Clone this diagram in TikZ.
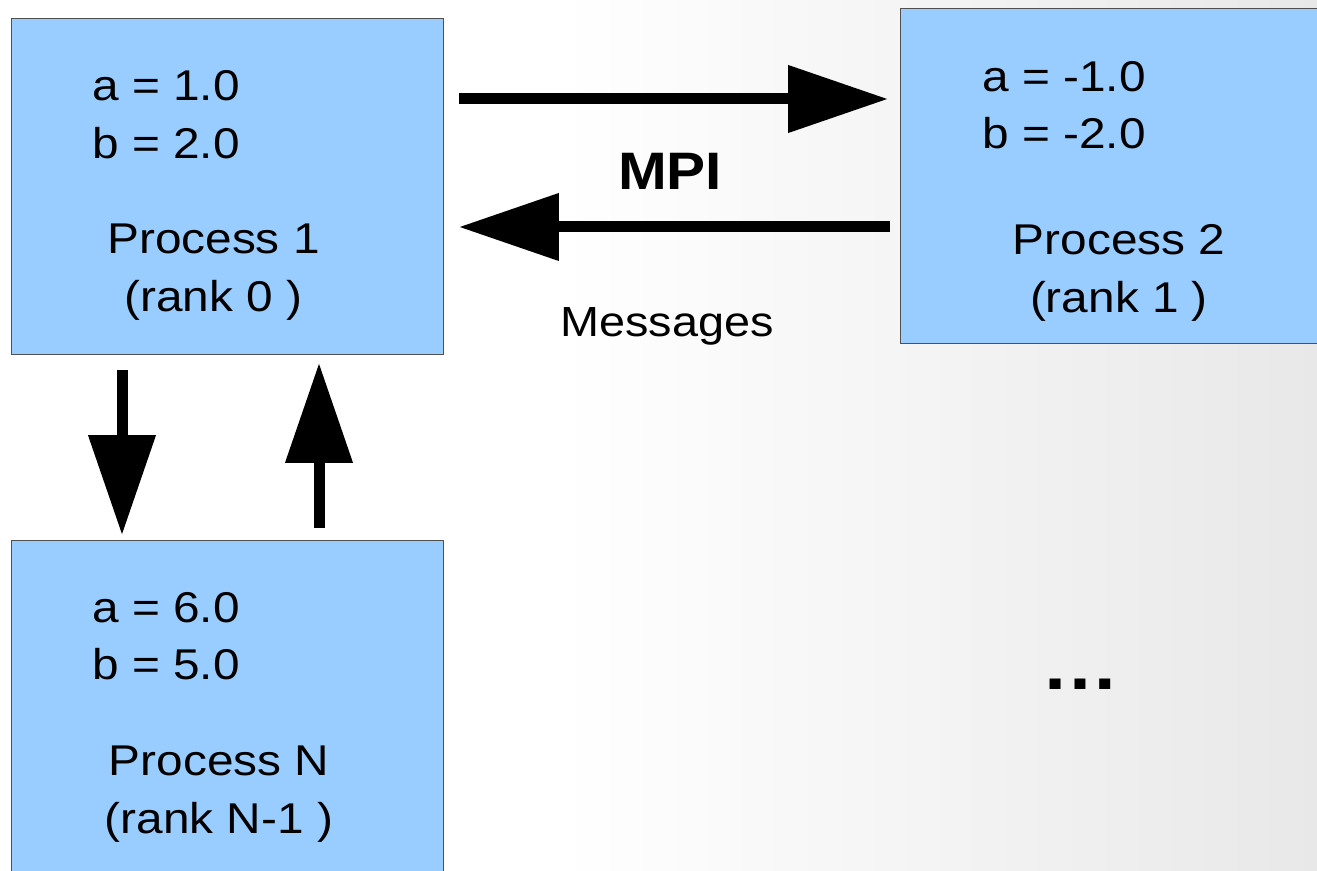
\documentclass[tikz,border=0pt]{standalone}
\usepackage{fontspec}
\setmainfont{Liberation Sans}[FakeStretch=1.11]
\usepackage{xcolor}
\usetikzlibrary{arrows.meta}
\definecolor{procblue}{RGB}{153,204,255}
\definecolor{procedge}{RGB}{80,80,80}

\begin{document}
\begin{tikzpicture}[x=0.02cm, y=-0.02cm,
		procbox/.style={draw=procedge, fill=procblue, rectangle, line width=0.6pt,
				minimum width=8.64cm, minimum height=6.72cm, anchor=north west, inner sep=0pt},
		vals/.style={anchor=north west, align=left, inner sep=0pt,
				font=\fontsize{24.5}{32.5}\selectfont},
		pname/.style={anchor=north, align=center, inner sep=0pt,
				font=\fontsize{24.5}{33}\selectfont},
		ar/.style={-{Triangle[length=2cm, width=1.3cm]}, line width=0.22cm},
		lbl/.style={anchor=base, inner sep=0pt},
	]
	\useasboundingbox (0,0) rectangle (1317,871);
	\clip (0,0) rectangle (1317,871);
	\fill[left color=white, right color=black!9] (560,0) rectangle (1317,871);

	\node[procbox] (p1) at (11,18) {};
	\node[procbox, minimum height=6.70cm] (p2) at (900,8) {};
	\node[procbox] (pn) at (11,540) {};

	\node[vals] (v1) at (92,70.5) {a = 1.0\\b = 2.0};
	\node[pname] (n1) at (213.5,224) {Process 1\\(rank 0 )};
	\node[vals] (v2) at (982,61) {a = -1.0\\b = -2.0};
	\node[pname] (n2) at (1119,224) {Process 2\\(rank 1 )};
	\node[vals] (vn) at (92,592) {a = 6.0\\b = 5.0};
	\node[pname] (nn) at (219,746) {Process N\\(rank N-1 )};

	\draw[ar] ([shift={(15,81)}]p1.north east) -- ([shift={(-12,91)}]p2.north west);
	\draw[ar] ([shift={(-10,219)}]p2.north west) -- ([shift={(15,209)}]p1.north east);
	\draw[ar] ([shift={(111,15)}]p1.south west) -- ([shift={(111,-5)}]pn.north west);
	\draw[ar] ([shift={(308,-12)}]pn.north west) -- ([shift={(308,8)}]p1.south west);

	\node[lbl, font=\bfseries\fontsize{30}{30}\selectfont] (mpi) at (670,190) {MPI};
	\node[lbl, font=\fontsize{24}{24}\selectfont] (msg) at (667,337) {Messages};
	\node[lbl, font=\bfseries\fontsize{40}{40}\selectfont] (more) at (1080,689) {…};
\end{tikzpicture}
\end{document}
